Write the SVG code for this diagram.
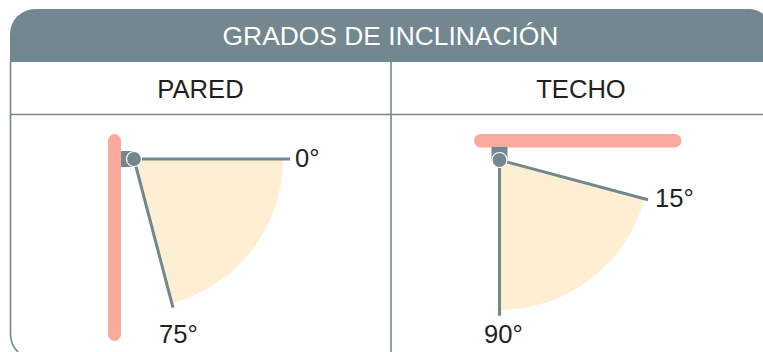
<svg xmlns="http://www.w3.org/2000/svg" width="763" height="352" viewBox="0 0 763 352">
<style>
text{font-family:"Liberation Sans",Arial,sans-serif;font-size:25.600px;fill:#231f20}
.mid{text-anchor:middle}
.head{fill:#fff;font-size:26.400px}
.rule{fill:none;stroke:#72878f;stroke-width:1.6}
.arm{fill:none;stroke:#72878f;stroke-width:3}
.surface{fill:#faaa9d}
.wedge{fill:#feefd2}
.metal{fill:#72878f}
.pivot{fill:#72878f;stroke:#fff;stroke-width:1.2}
</style>
<rect width="763" height="352" fill="#fff"/>
<g id="table">
<path class="metal" d="M10 62V34A25 25 0 0 1 35 9H749A25 25 0 0 1 763 13.700V62Z"/>
<path class="rule" d="M10.500 62V334A25 25 0 0 0 18 352"/>
<path class="rule" d="M10 114.500H763M391 62V352"/>
</g>
<g id="header"><text class="mid head" x="390.500" y="44.500">GRADOS DE INCLINACIÓN</text></g>
<g id="col-pared"><text class="mid" x="200.500" y="97.500">PARED</text></g>
<g id="col-techo"><text class="mid" x="581" y="97.500">TECHO</text></g>
<g id="pared">
<rect class="surface" x="108" y="134" width="13" height="207" rx="6.500"/>
<path class="wedge" d="M134 159H283A149 149 0 0 1 172.600 302.900Z"/>
<rect class="metal" x="121" y="151" width="14" height="16"/>
</g>
<g id="techo">
<rect class="surface" x="474" y="134" width="207.500" height="13.500" rx="6.700"/>
<path class="wedge" d="M499.500 160L644.400 198.800A150 150 0 0 1 499.500 310Z"/>
<rect class="metal" x="491.500" y="147" width="16" height="14"/>
</g>
<g id="connectors">
<path class="arm" d="M134 159H290M134 159L173 307.700"/>
<path class="arm" d="M499.500 160L648 199.700M499.500 160V315.700"/>
</g>
<g id="pivot-pared"><circle class="pivot" cx="134" cy="159" r="7.500"/></g>
<g id="pivot-techo"><circle class="pivot" cx="499.500" cy="160" r="7.500"/></g>
<g id="labels">
<text x="295" y="166.500">0°</text>
<text x="159" y="342.500">75°</text>
<text x="655" y="207">15°</text>
<text x="484" y="342.500">90°</text>
</g>
</svg>
